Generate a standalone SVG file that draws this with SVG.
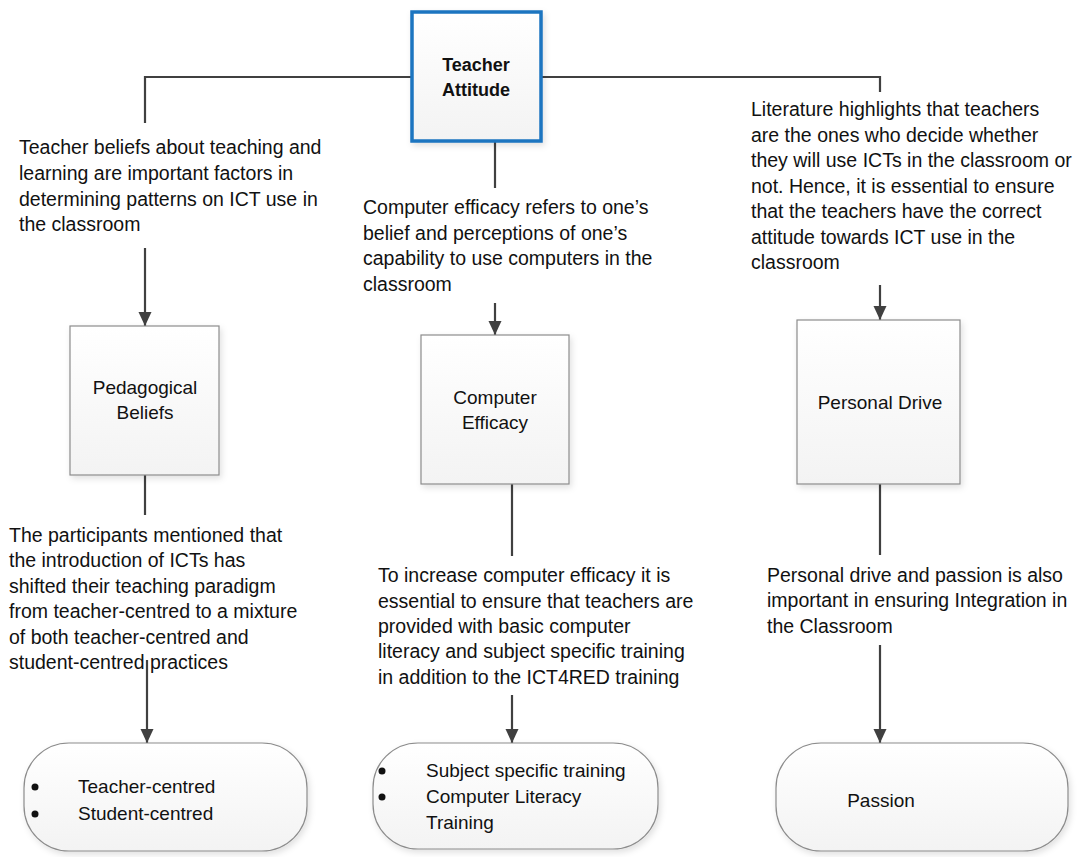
<svg xmlns="http://www.w3.org/2000/svg" width="1081" height="857" viewBox="0 0 1081 857">
<style>
text{font-family:"Liberation Sans",Arial,sans-serif;font-size:19px;fill:#111}
.t{font-size:19.5px}
.c{text-anchor:middle}
.b{font-weight:bold;font-size:18px}
.box{fill:url(#g);stroke:#8c8c8c;stroke-width:1.2}
.main{fill:url(#g);stroke:#1b74c0;stroke-width:3.5}
.ln{fill:none;stroke:#404040;stroke-width:2.2}
.ar{fill:none;stroke:#404040;stroke-width:2.2;marker-end:url(#ah)}
</style>
<defs>
<linearGradient id="g" x1="0" y1="0" x2="0" y2="1">
<stop offset="0" stop-color="#ffffff"/>
<stop offset="1" stop-color="#f3f3f3"/>
</linearGradient>
<filter id="sh" x="-10%" y="-10%" width="125%" height="125%">
<feDropShadow dx="2" dy="3" stdDeviation="3" flood-color="#000" flood-opacity="0.12"/>
</filter>
<marker id="ah" markerUnits="userSpaceOnUse" markerWidth="14" markerHeight="14" refX="14" refY="7" orient="auto">
<path d="M0,0.5 L14,7 L0,13.5 z" fill="#404040"/>
</marker>
</defs>

<g id="connectors">
<polyline class="ln" points="145,123 145,77 412,77"/>
<polyline class="ln" points="541,77 880,77 880,92"/>
<line class="ln" x1="495" y1="141" x2="495" y2="188"/>
<line class="ar" x1="145" y1="248" x2="145" y2="326"/>
<line class="ar" x1="495" y1="303" x2="495" y2="335"/>
<line class="ar" x1="880" y1="285" x2="880" y2="320"/>
<line class="ln" x1="145" y1="475" x2="145" y2="515"/>
<line class="ln" x1="512" y1="484" x2="512" y2="556"/>
<line class="ln" x1="880" y1="484" x2="880" y2="555"/>
<line class="ar" x1="147" y1="660" x2="147" y2="743"/>
<line class="ar" x1="512" y1="695" x2="512" y2="743"/>
<line class="ar" x1="880" y1="645" x2="880" y2="743"/>
</g>

<g id="teacher-attitude">
<rect class="main" x="412" y="12" width="129" height="129" filter="url(#sh)"/>
<text class="c b" x="476" y="71">Teacher</text>
<text class="c b" x="476" y="96">Attitude</text>
</g>

<g id="text-beliefs" class="t">
<text class="t" x="19" y="154">Teacher beliefs about teaching and</text>
<text class="t" x="19" y="180">learning are important factors in</text>
<text class="t" x="19" y="206">determining patterns on ICT use in</text>
<text class="t" x="19" y="231">the classroom</text>
</g>

<g id="text-efficacy">
<text class="t" x="363" y="214">Computer efficacy refers to one’s</text>
<text class="t" x="363" y="240">belief and perceptions of one’s</text>
<text class="t" x="363" y="265">capability to use computers in the</text>
<text class="t" x="363" y="291">classroom</text>
</g>

<g id="text-literature">
<text class="t" x="751" y="116">Literature highlights that teachers</text>
<text class="t" x="751" y="142">are the ones who decide whether</text>
<text class="t" x="751" y="167">they will use ICTs in the classroom or</text>
<text class="t" x="751" y="193">not. Hence, it is essential to ensure</text>
<text class="t" x="751" y="218">that the teachers have the correct</text>
<text class="t" x="751" y="244">attitude towards ICT use in the</text>
<text class="t" x="751" y="269">classroom</text>
</g>

<g id="pedagogical-beliefs">
<rect class="box" x="70" y="326" width="149" height="149" filter="url(#sh)"/>
<text class="c" x="145" y="394">Pedagogical</text>
<text class="c" x="145" y="419">Beliefs</text>
</g>

<g id="computer-efficacy">
<rect class="box" x="421" y="335" width="148" height="149" filter="url(#sh)"/>
<text class="c" x="495" y="404">Computer</text>
<text class="c" x="495" y="429">Efficacy</text>
</g>

<g id="personal-drive">
<rect class="box" x="797" y="320" width="163" height="164" filter="url(#sh)"/>
<text class="c" x="880" y="409">Personal Drive</text>
</g>

<g id="text-participants">
<text class="t" x="9" y="542">The participants mentioned that</text>
<text class="t" x="9" y="567">the introduction of ICTs has</text>
<text class="t" x="9" y="593">shifted their teaching paradigm</text>
<text class="t" x="9" y="618">from teacher-centred to a mixture</text>
<text class="t" x="9" y="644">of both teacher-centred and</text>
<text class="t" x="9" y="669">student-centred practices</text>
</g>

<g id="text-increase">
<text class="t" x="378" y="582">To increase computer efficacy it is</text>
<text class="t" x="378" y="608">essential to ensure that teachers are</text>
<text class="t" x="378" y="633">provided with basic computer</text>
<text class="t" x="378" y="658">literacy and subject specific training</text>
<text class="t" x="378" y="684">in addition to the ICT4RED training</text>
</g>

<g id="text-passion">
<text class="t" x="767" y="582">Personal drive and passion is also</text>
<text class="t" x="767" y="607">important in ensuring Integration in</text>
<text class="t" x="767" y="633">the Classroom</text>
</g>

<g id="pedagogy-outcomes">
<rect class="box" x="24" y="743" width="283" height="108" rx="45" ry="45" filter="url(#sh)"/>
<circle cx="35" cy="787" r="3.5" fill="#111"/>
<circle cx="35" cy="814" r="3.5" fill="#111"/>
<text x="78" y="793">Teacher-centred</text>
<text x="78" y="820">Student-centred</text>
</g>

<g id="efficacy-outcomes">
<rect class="box" x="373" y="743" width="285" height="106" rx="45" ry="45" filter="url(#sh)"/>
<circle cx="382" cy="771" r="3.5" fill="#111"/>
<circle cx="382" cy="797" r="3.5" fill="#111"/>
<text x="426" y="777">Subject specific training</text>
<text x="426" y="803">Computer Literacy</text>
<text x="426" y="829">Training</text>
</g>

<g id="passion">
<rect class="box" x="776" y="743" width="292" height="108" rx="45" ry="45" filter="url(#sh)"/>
<text class="c" x="881" y="807">Passion</text>
</g>
</svg>
